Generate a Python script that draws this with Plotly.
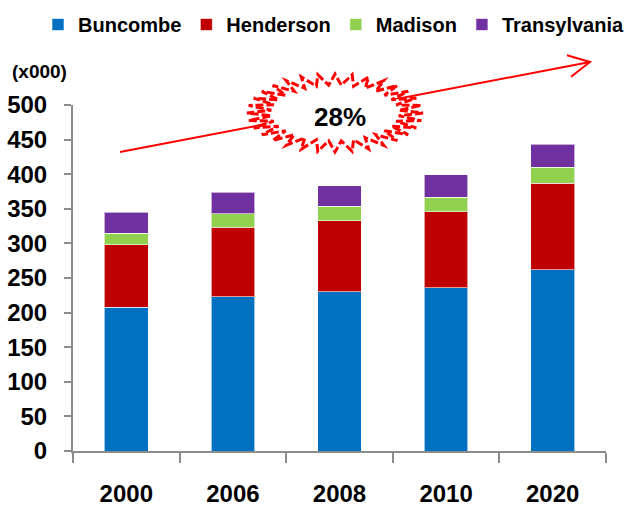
import math
import plotly.graph_objects as go

years = ["2000", "2006", "2008", "2010", "2020"]
buncombe = [208, 223, 230, 236, 262]
henderson = [90, 100, 103, 110, 125]
madison = [17, 20, 21, 21, 23]
transylvania = [30, 31, 29, 32, 33]
y_ticks = [0, 50, 100, 150, 200, 250, 300, 350, 400, 450, 500]
growth_label = "28%"

W, H = 631, 506
L, R, T, B = 73, 25, 105, 55
PX0, PX1 = L, W - R
PY0, PY1 = H - B, T  # bottom, top


def px(x):
    return (x - PX0) / (PX1 - PX0)


def py(y):
    return (PY0 - y) / (PY0 - PY1)


series = [
    ("Buncombe", buncombe, "#0070C0"),
    ("Henderson", henderson, "#C00000"),
    ("Madison", madison, "#92D050"),
    ("Transylvania", transylvania, "#7030A0"),
]

fig = go.Figure()
for name, vals, col in series:
    fig.add_trace(go.Bar(
        x=years, y=vals, name=name,
        marker=dict(color=col, line=dict(color="rgba(255,255,255,0.6)", width=1)),
    ))

shapes = []
# arrow line
x0, y0, x1, y1 = 120, 152, 590, 62
shapes.append(dict(type="line", xref="paper", yref="paper",
                   x0=px(x0), y0=py(y0), x1=px(x1), y1=py(y1),
                   line=dict(color="#FF0000", width=2), layer="above"))
dx, dy = x1 - x0, y1 - y0
ln = math.hypot(dx, dy)
ux, uy = dx / ln, dy / ln
alen, ang = 24, math.radians(27)
pts = []
for s in (1, -1):
    ca, sa = math.cos(s * ang), math.sin(s * ang)
    bx = -(ux * ca - uy * sa) * alen
    by = -(ux * sa + uy * ca) * alen
    pts.append((x1 + bx, y1 + by))
path = "M{},{} L{},{} L{},{}".format(px(pts[0][0]), py(pts[0][1]), px(x1), py(y1), px(pts[1][0]), py(pts[1][1]))
shapes.append(dict(type="path", xref="paper", yref="paper", path=path,
                   line=dict(color="#FF0000", width=2), layer="above"))


def burst(cx, cy, ro, ri, n, phase):
    p = []
    for i in range(2 * n):
        a = 2 * math.pi * i / (2 * n) + phase
        rx, ry = ro if i % 2 == 0 else ri
        p.append((cx + rx * math.cos(a), cy + ry * math.sin(a)))
    return "M" + " L".join("{:.5f},{:.5f}".format(px(a), py(b)) for a, b in p) + " Z"


cx, cy = 335, 113
shapes.append(dict(type="path", xref="paper", yref="paper",
                   path=burst(cx, cy, (88, 39), (64, 28), 32, 0.0),
                   fillcolor="white", line=dict(color="#FF0000", width=3, dash="8px,3px"),
                   layer="above"))

fig.update_layout(
    width=W, height=H,
    margin=dict(l=L, r=R, t=T, b=B, autoexpand=False),
    paper_bgcolor="white", plot_bgcolor="white",
    barmode="stack", bargap=0.59,
    font=dict(family="Liberation Sans, Arial, sans-serif", color="black"),
    showlegend=True,
    legend=dict(orientation="h", xref="paper", yref="paper",
                x=px(38), y=py(5), xanchor="left", yanchor="top",
                font=dict(size=20, weight="bold"),
                itemwidth=30, traceorder="normal", tracegroupgap=0,
                bgcolor="rgba(0,0,0,0)"),
    xaxis=dict(showline=True, linecolor="#8C8C8C", linewidth=2,
               ticks="outside", tickson="boundaries", ticklen=10, tickwidth=2, tickcolor="#8C8C8C",
               tickfont=dict(size=24, weight="bold"), ticklabelstandoff=20,
               showgrid=False, zeroline=False),
    yaxis=dict(range=[0, 500], tickvals=y_ticks, showline=True, linecolor="#8C8C8C", linewidth=2,
               ticks="outside", ticklen=7, tickwidth=2, tickcolor="#8C8C8C",
               tickfont=dict(size=24, weight="bold"), ticklabelstandoff=12,
               showgrid=False, zeroline=False),
    shapes=shapes,
    annotations=[
        dict(text="(x000)", xref="paper", yref="paper", x=px(39), y=py(72),
             xanchor="center", yanchor="middle",
             showarrow=False, font=dict(size=19, weight="bold")),
        dict(text=growth_label, xref="paper", yref="paper", x=px(340), y=py(117),
             xanchor="center", yanchor="middle",
             showarrow=False, font=dict(size=26, weight="bold")),
    ],
)

fig.write_html("out.html", config={"displayModeBar": False},
               post_script="document.body.style.margin='0px';")
